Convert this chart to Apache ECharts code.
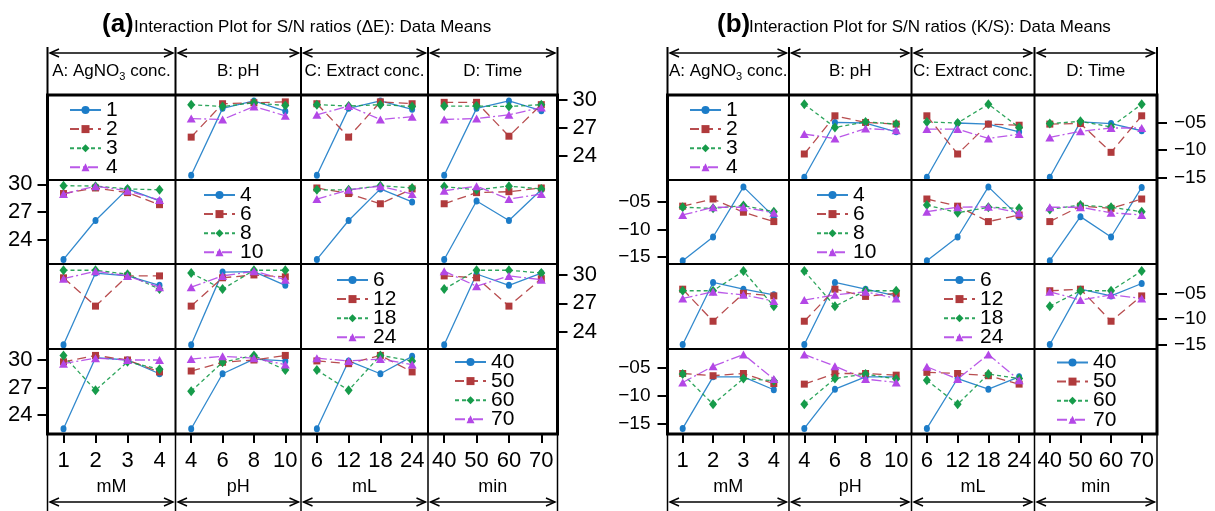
<!DOCTYPE html>
<html><head><meta charset="utf-8">
<script src="https://cdn.jsdelivr.net/npm/echarts@6/dist/echarts.min.js"></script>
<style>html,body{margin:0;padding:0;background:#fff}#c{width:1215px;height:511px}</style>
</head><body><div id="c"></div>
<script>
// ---------- categories / labels ----------
const factorTitles = ['A: AgNO₃ conc.', 'B: pH', 'C: Extract conc.', 'D: Time'];
const unitLabels = ['mM', 'pH', 'mL', 'min'];
const levelsA = ['1', '2', '3', '4'];
const levelsB = ['4', '6', '8', '10'];
const levelsC = ['6', '12', '18', '24'];
const levelsD = ['40', '50', '60', '70'];
const yTicksA = [24, 27, 30];
const yTicksB = [-15, -10, -5];
const titleA = 'Interaction Plot for S/N ratios (ΔE): Data Means';
const titleB = 'Interaction Plot for S/N ratios (K/S): Data Means';

// ---------- panel (a): S/N ratios (ΔE); rows = series factor, cols = x factor ----------
const a_AB = [[21.9, 29.1, 29.9, 28.8], [26.0, 29.6, 29.7, 29.8], [29.5, 29.3, 29.7, 29.4], [28.0, 27.9, 29.3, 28.3]];
const a_AC = [[21.9, 29.1, 29.9, 29.0], [29.6, 26.0, 29.8, 29.6], [29.5, 29.35, 29.5, 29.3], [28.4, 29.35, 27.9, 28.2]];
const a_AD = [[21.9, 29.1, 29.9, 28.85], [29.75, 29.75, 26.1, 29.5], [29.35, 29.35, 29.3, 29.5], [27.9, 28.0, 28.4, 29.2]];
const a_BA = [[21.9, 26.1, 29.5, 28.2], [29.0, 29.6, 29.1, 27.8], [29.85, 29.8, 29.5, 29.4], [28.95, 29.8, 29.3, 28.3]];
const a_BC = [[21.9, 26.1, 29.5, 28.1], [29.6, 29.0, 27.9, 29.5], [29.4, 29.4, 29.85, 29.6], [28.4, 29.4, 29.8, 28.95]];
const a_BD = [[21.9, 28.2, 26.1, 29.4], [27.9, 29.1, 29.2, 29.6], [29.75, 29.4, 29.8, 29.5], [29.3, 29.8, 28.4, 28.95]];
const a_CA = [[22.6, 30.2, 29.9, 28.9], [29.7, 26.7, 29.9, 29.9], [30.5, 30.5, 30.07, 28.5], [29.6, 30.4, 29.9, 28.7]];
const a_CB = [[22.6, 30.3, 30.35, 28.9], [26.7, 29.7, 30.0, 29.8], [30.2, 28.5, 30.5, 30.5], [28.7, 29.9, 30.4, 29.5]];
const a_CD = [[22.6, 30.1, 28.9, 30.2], [29.9, 29.7, 26.7, 29.6], [28.5, 30.5, 30.5, 30.2], [30.4, 28.8, 29.9, 29.5]];
const a_DA = [[22.5, 30.25, 30.0, 28.5], [29.8, 30.5, 30.0, 28.7], [30.5, 26.7, 29.8, 29.0], [29.6, 30.2, 30.0, 30.0]];
const a_DB = [[22.5, 28.5, 30.1, 29.9], [28.8, 29.75, 30.0, 30.5], [26.6, 29.75, 30.5, 28.9], [30.1, 30.4, 30.2, 29.5]];
const a_DC = [[22.5, 29.9, 28.5, 30.4], [29.9, 29.6, 30.5, 28.7], [28.9, 26.7, 30.5, 29.9], [30.2, 29.9, 30.1, 29.5]];

// ---------- panel (b): S/N ratios (K/S) ----------
const b_AB = [[-14.9, -5.0, -5.1, -6.7], [-10.7, -3.8, -5.0, -5.3], [-1.7, -5.9, -4.9, -5.3], [-7.1, -7.9, -6.1, -6.4]];
const b_AC = [[-14.9, -5.1, -5.3, -6.7], [-3.8, -10.7, -5.3, -5.5], [-4.9, -5.1, -1.7, -5.9], [-6.2, -6.2, -7.9, -7.1]];
const b_AD = [[-14.9, -4.9, -5.2, -6.5], [-5.3, -5.2, -10.4, -3.8], [-5.2, -4.8, -5.8, -1.7], [-7.7, -6.6, -6.0, -6.0]];
const b_BA = [[-15.7, -11.4, -2.3, -7.7], [-5.8, -4.5, -6.9, -8.6], [-6.0, -6.2, -5.7, -6.8], [-7.4, -6.0, -6.0, -7.0]];
const b_BC = [[-15.7, -11.4, -2.3, -7.7], [-4.5, -5.8, -8.6, -7.4], [-5.6, -7.0, -6.0, -6.2], [-6.8, -6.0, -5.9, -7.0]];
const b_BD = [[-15.7, -7.7, -11.4, -2.4], [-8.6, -5.8, -6.2, -4.5], [-6.4, -5.6, -6.0, -6.8], [-6.0, -6.0, -7.0, -7.4]];
const b_CA = [[-14.9, -2.9, -4.2, -5.3], [-4.2, -10.4, -5.0, -5.5], [-4.5, -4.5, -0.7, -7.5], [-6.0, -4.7, -5.3, -6.5]];
const b_CB = [[-14.9, -2.9, -4.2, -5.5], [-10.4, -4.2, -5.6, -5.0], [-0.7, -7.5, -4.5, -4.5], [-6.3, -5.3, -4.7, -6.0]];
const b_CD = [[-14.9, -4.2, -5.5, -3.1], [-4.5, -4.2, -10.4, -5.5], [-7.5, -4.5, -4.5, -0.7], [-4.7, -6.3, -5.3, -6.0]];
const b_DA = [[-15.9, -6.7, -6.7, -9.0], [-6.1, -6.5, -6.1, -7.9], [-6.2, -11.6, -7.0, -7.4], [-7.7, -4.8, -2.7, -7.1]];
const b_DB = [[-15.9, -8.9, -6.7, -6.7], [-8.0, -6.1, -6.1, -6.4], [-11.6, -7.0, -6.2, -7.1], [-2.7, -4.8, -7.1, -7.7]];
const b_DC = [[-15.9, -7.0, -8.9, -6.7], [-5.9, -6.1, -6.5, -8.0], [-7.3, -11.6, -6.2, -7.0], [-4.9, -7.1, -2.7, -7.3]];

// ---------- layout / style ----------
const FONT = '"Liberation Sans", Arial, Helvetica, sans-serif';
const LEVELS = [levelsA, levelsB, levelsC, levelsD];
const KEYS = ['A', 'B', 'C', 'D'];
const ROWS = [95, 180, 264, 349, 434];
const COLS_A = [47.5, 175.5, 301, 428, 557.5];
const COLS_B = [667.5, 789, 911.5, 1034.5, 1157];
const YR_A = [[21.38, 30.54], [21.41, 30.46], [22.16, 31.16], [21.93, 31.2]];
const YR_B = [[-15.4, -0.04], [-16.3, -1.05], [-15.77, 0.67], [-16.9, -1.73]];
const LEG_A = [[69, 110], [203, 195], [336, 280], [454, 362]];
const LEG_B = [[689, 110], [816, 195], [943, 280], [1056, 362.5]];
const STY = [
  { color: '#1c7cc8', symbol: 'circle', size: [6, 7], dash: 'solid' },
  { color: '#b03a3c', symbol: 'rect', size: 7, dash: [9, 5] },
  { color: '#169b4a', symbol: 'diamond', size: [8, 10], dash: [4, 3] },
  { color: '#b347e6', symbol: 'triangle', size: [9, 8], dash: [10, 3, 2, 3] }
];

const grid = [], xAxis = [], yAxis = [], series = [], legend = [], graphic = [];

function buildPanel(pid, cols, data, yr, yTicks, yFmt, yFont, yMargin, legPos) {
  for (let r = 0; r < 4; r++) for (let c = 0; c < 4; c++) {
    const gi = grid.length;
    grid.push({ left: cols[c], top: ROWS[r], width: cols[c + 1] - cols[c], height: ROWS[r + 1] - ROWS[r] });
    const bottom = r === 3;
    xAxis.push({
      type: 'category', gridIndex: gi, data: LEVELS[c], boundaryGap: true, show: bottom,
      axisLine: { show: false },
      axisTick: { show: true, alignWithLabel: true, length: 9, lineStyle: { color: '#000', width: 2 } },
      axisLabel: { show: true, interval: 0, margin: 16, fontSize: 22, color: '#000', fontFamily: FONT },
      splitLine: { show: false },
      name: bottom ? unitLabels[c] : '', nameLocation: 'middle', nameGap: 44,
      nameTextStyle: { fontSize: 18, color: '#000', fontFamily: FONT }
    });
    const onRight = (r % 2 === 0);
    const showY = onRight ? c === 3 : c === 0;
    yAxis.push({
      type: 'value', gridIndex: gi, min: yr[r][0], max: yr[r][1], position: onRight ? 'right' : 'left', show: showY,
      axisLine: { show: false }, splitLine: { show: false },
      axisTick: { show: true, length: 10, customValues: yTicks, lineStyle: { color: '#000', width: 2 } },
      axisLabel: { show: true, customValues: yTicks, formatter: yFmt, margin: onRight ? yMargin[1] : yMargin[0],
        fontSize: yFont, color: '#000', fontFamily: FONT }
    });
    if (r === c) {
      legend.push({
        left: legPos[r][0], top: legPos[r][1] - 10.5, orient: 'vertical', padding: 0,
        data: LEVELS[r].map(l => pid + ':' + KEYS[r] + '=' + l),
        formatter: n => n.split('=')[1],
        itemWidth: 31, itemHeight: 10, itemGap: -1.9, selectedMode: false,
        textStyle: { fontSize: 21, color: '#000', fontFamily: FONT }
      });
      continue;
    }
    const m = data[KEYS[r] + KEYS[c]];
    for (let k = 0; k < 4; k++) {
      const s = STY[k];
      series.push({
        type: 'line', name: pid + ':' + KEYS[r] + '=' + LEVELS[r][k], xAxisIndex: gi, yAxisIndex: gi,
        data: m[k], symbol: s.symbol, symbolSize: s.size, showSymbol: true,
        itemStyle: { color: s.color }, lineStyle: { color: s.color, width: 1.3, type: s.dash, opacity: 0.9 },
        emphasis: { disabled: true }, silent: true, z: 2 + k
      });
    }
  }
}

function line(x1, y1, x2, y2, w) {
  graphic.push({ type: 'line', z: 50, silent: true, shape: { x1, y1, x2, y2 }, style: { stroke: '#000', lineWidth: w } });
}
function arrow(x1, x2, y) {
  line(x1, y, x2, y, 1.5);
  graphic.push({ type: 'polyline', z: 50, silent: true, shape: { points: [[x1 + 9, y - 4], [x1, y], [x1 + 9, y + 4]] }, style: { stroke: '#000', lineWidth: 1.5, fill: null } });
  graphic.push({ type: 'polyline', z: 50, silent: true, shape: { points: [[x2 - 9, y - 4], [x2, y], [x2 - 9, y + 4]] }, style: { stroke: '#000', lineWidth: 1.5, fill: null } });
}
function frame(cols, titleX, label, title) {
  graphic.push({ type: 'text', z: 50, x: titleX, y: 25, style: { text: label, fontSize: 26, fontWeight: 'bold', fontFamily: FONT, fill: '#000', verticalAlign: 'middle' } });
  graphic.push({ type: 'text', z: 50, x: titleX + 32, y: 27, style: { text: title, fontSize: 17, fontFamily: FONT, fill: '#000', verticalAlign: 'middle' } });
  for (let i = 0; i < 5; i++) {
    line(cols[i], 47, cols[i], ROWS[0], 2);
    line(cols[i], ROWS[4], cols[i], 511, 1.5);
  }
  for (let i = 0; i < 4; i++) {
    arrow(cols[i] + 2.5, cols[i + 1] - 2.5, 53);
    arrow(cols[i] + 2.5, cols[i + 1] - 2.5, 502);
    const t = '{m|' + factorTitles[i].replace('₃', '}{s|3}{m|') + '}';
    graphic.push({ type: 'text', z: 50, x: (cols[i] + cols[i + 1]) / 2, y: 71, style: {
      text: t, align: 'center', verticalAlign: 'middle', fill: '#000',
      rich: { m: { fontSize: 17, lineHeight: 22, fontFamily: FONT, fill: '#000' },
              s: { fontSize: 11, lineHeight: 11, fontFamily: FONT, verticalAlign: 'bottom', fill: '#000' } } } });
  }
  for (let i = 1; i < 4; i++) {
    line(cols[i], ROWS[0], cols[i], ROWS[4], 2);
    line(cols[0], ROWS[i], cols[4], ROWS[i], 2);
  }
  graphic.push({ type: 'rect', z: 51, silent: true, shape: { x: cols[0], y: ROWS[0], width: cols[4] - cols[0], height: ROWS[4] - ROWS[0] },
    style: { fill: null, stroke: '#000', lineWidth: 3 } });
}

const dataA = { AB: a_AB, AC: a_AC, AD: a_AD, BA: a_BA, BC: a_BC, BD: a_BD, CA: a_CA, CB: a_CB, CD: a_CD, DA: a_DA, DB: a_DB, DC: a_DC };
const dataB = { AB: b_AB, AC: b_AC, AD: b_AD, BA: b_BA, BC: b_BC, BD: b_BD, CA: b_CA, CB: b_CB, CD: b_CD, DA: b_DA, DB: b_DB, DC: b_DC };
const fmtA = v => String(v);
const fmtB = v => '\u2212' + (Math.abs(v) < 10 ? '0' : '') + Math.abs(v);

buildPanel('a', COLS_A, dataA, YR_A, yTicksA, fmtA, 22, [15, 15], LEG_A);
buildPanel('b', COLS_B, dataB, YR_B, yTicksB, fmtB, 19, [17, 17], LEG_B);
frame(COLS_A, 102, '(a)', titleA);
frame(COLS_B, 717, '(b)', titleB);

const chart = echarts.init(document.getElementById('c'), null, { renderer: 'canvas', width: 1215, height: 511 });
chart.setOption({ animation: false, backgroundColor: '#fff', grid, xAxis, yAxis, series, legend, graphic });
</script>
</body></html>
